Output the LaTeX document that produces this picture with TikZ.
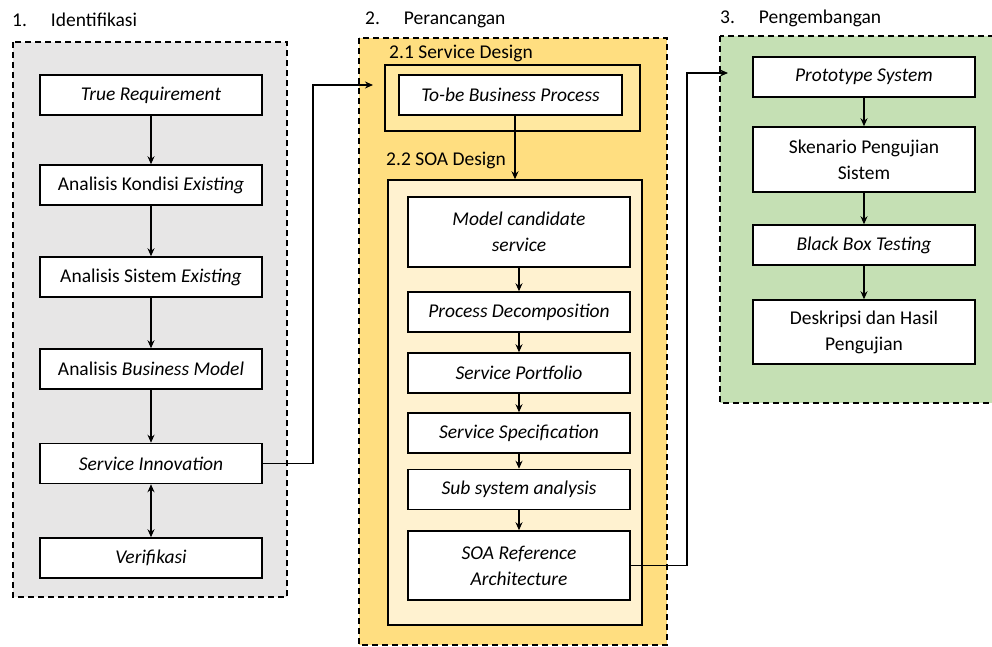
\documentclass[tikz,border=0pt]{standalone}
\usepackage{fontspec}
\setmainfont{Carlito}
\usepackage{tikz}
\usetikzlibrary{arrows.meta}
\definecolor{grayfill}{RGB}{231,230,230}
\definecolor{yellowfill}{RGB}{255,222,128}
\definecolor{soafill}{RGB}{255,242,208}
\definecolor{sdfill}{RGB}{255,232,160}
\definecolor{greenfill}{RGB}{197,224,180}

\begin{document}
\begin{tikzpicture}[x=1pt,y=-1pt,
    font=\fontsize{19.5}{23}\selectfont,
    box/.style={draw,line width=1.5pt,fill=white,minimum width=222pt,minimum height=40pt,inner sep=2pt,align=center},
    stage/.style={draw,line width=1.4pt,dash pattern=on 6pt off 4pt},
    frame/.style={draw,line width=1.5pt},
    title/.style={anchor=west,inner sep=0pt},
    flow/.style={line width=1.5pt,-{Stealth[length=8pt,width=7pt]}}]
      \useasboundingbox (0,0) rectangle (992,647);
      \draw [stage,fill=grayfill] (13,42) rectangle (287,597);
      \draw [stage,fill=yellowfill] (359,38) rectangle (667,645);
      \draw [stage,fill=greenfill] (720,36) rectangle (1000,403);
      \draw [frame,fill=sdfill] (385,65) rectangle (640,131);
      \node (S) [frame,fill=soafill,minimum width=254pt,minimum height=445pt,inner sep=0pt] at (515,402.5) {};
      \node (L1) [title] at (12,20) {1.\hspace{24pt}Identifikasi};
      \node (L2) [title] at (365,20) {2.\hspace{24pt}Perancangan};
      \node (L3) [title] at (720,18) {3.\hspace{24pt}Pengembangan};
      \node (L21) [title] at (389,53) {2.1 Service Design};
      \node (L22) [title] at (386,160) {2.2 SOA Design};
      \node (A) [box] at (151,95) {\textit{True Requirement}};
      \node (B) [box] at (151,185) {Analisis Kondisi \textit{Existing}};
      \node (C) [box] at (151,277) {Analisis Sistem \textit{Existing}};
      \node (D) [box] at (151,369) {Analisis \textit{Business Model}};
      \node (E) [box] at (151,463.5) {\textit{Service Innovation}};
      \node (F) [box] at (151,558) {\textit{Verifikasi}};
      \node (G) [box,minimum width=223pt] at (510.5,95) {\textit{To-be Business Process}};
      \node (M) [box,minimum height=70pt] at (519,232) {\textit{Model candidate}\\[3pt]\textit{service}};
      \node (N) [box] at (519,312) {\textit{Process Decomposition}};
      \node (O) [box] at (519,373) {\textit{Service Portfolio}};
      \node (Q) [box] at (519,433) {\textit{Service Specification}};
      \node (R) [box] at (519,489.5) {\textit{Sub system analysis}};
      \node (T) [box,minimum height=69pt] at (519,565.5) {\textit{SOA Reference}\\[3pt]\textit{Architecture}};
      \node (U) [box] at (864,77) {\textit{Prototype System}};
      \node (V) [box,minimum height=65pt] at (864,159.5) {Skenario Pengujian\\[3pt]Sistem};
      \node (W) [box] at (864,245) {\textit{Black Box Testing}};
      \node (Z) [box,minimum height=64pt] at (864,332) {Deskripsi dan Hasil\\[3pt]Pengujian};
      \coordinate (K1) at (313,85);
      \coordinate (P1) at (373,85);
      \coordinate (K2) at (687,73);
      \coordinate (P2) at (728,73);
      \coordinate (X) at (515,0);
      \draw [flow] (A) to (B);
      \draw [flow] (B) to (C);
      \draw [flow] (C) to (D);
      \draw [flow] (D) to (E);
      \draw [flow,{Stealth[length=8pt,width=7pt]}-{Stealth[length=8pt,width=7pt]}] (E) to (F);
      \draw [flow] (E.east) -| (K1) -- (P1);
      \draw [flow] (G.south -| X) -- (X |- S.north);
      \draw [flow] (M) to (N);
      \draw [flow] (N) to (O);
      \draw [flow] (O) to (Q);
      \draw [flow] (Q) to (R);
      \draw [flow] (R) to (T);
      \draw [flow] (T.east) -| (K2) -- (P2);
      \draw [flow] (U) to (V);
      \draw [flow] (V) to (W);
      \draw [flow] (W) to (Z);
\end{tikzpicture}
\end{document}
